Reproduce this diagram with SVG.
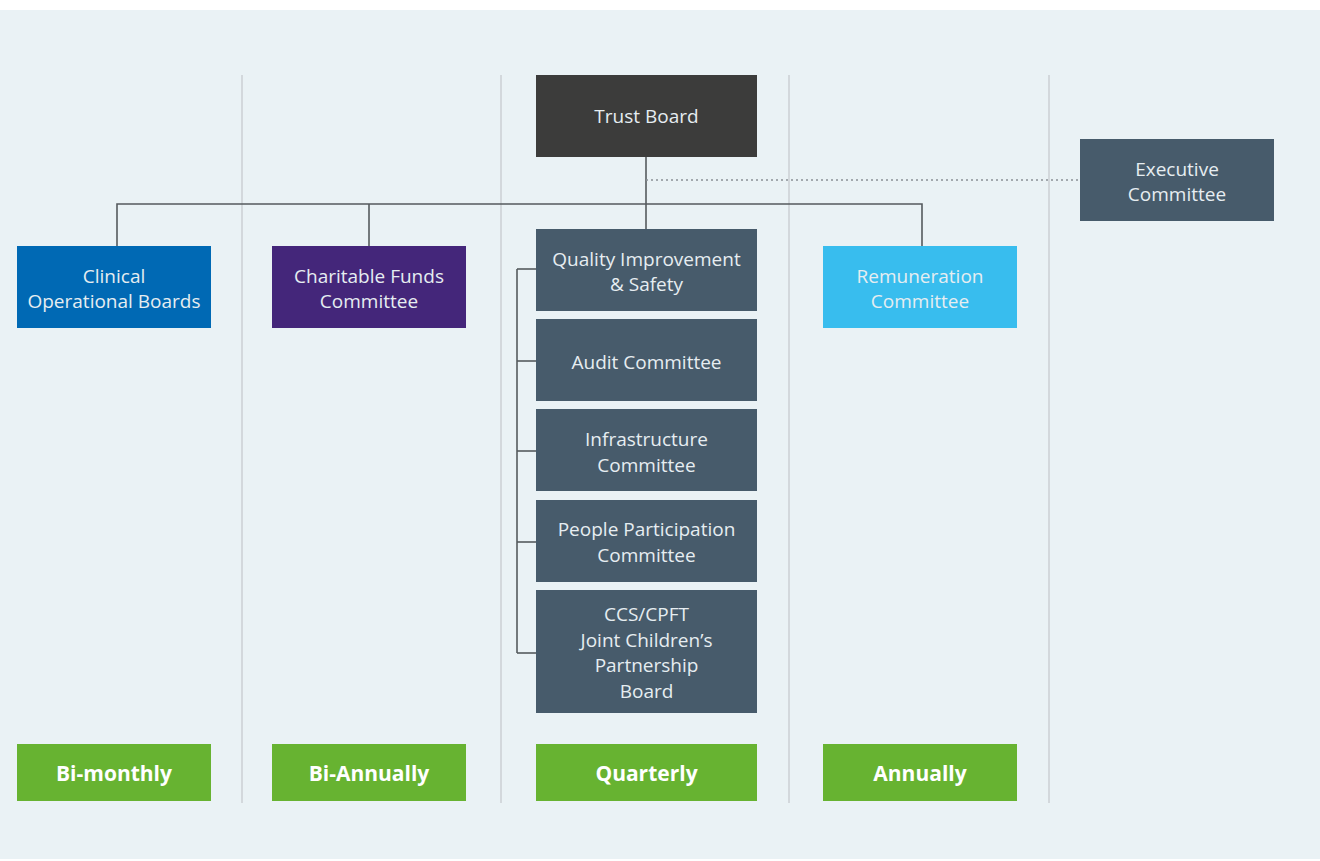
<svg xmlns="http://www.w3.org/2000/svg" width="1320" height="861" viewBox="0 0 1320 861">
<style>
.t{font-family:"Open Sans","Noto Sans","Liberation Sans",sans-serif;font-size:19px;fill:#E6EDF1;text-anchor:middle}
.g{font-family:"Open Sans","Noto Sans","Liberation Sans",sans-serif;font-size:21px;font-weight:bold;fill:#FFFFFF;text-anchor:middle}
.div{stroke:#D3D8DC;stroke-width:2}
.ln{stroke:#555A5E;stroke-width:1.6;fill:none}
.slate{fill:#475B6B}
.green{fill:#67B331}
</style>
<rect x="0" y="0" width="1320" height="861" fill="#FFFFFF"/>
<rect x="0" y="10" width="1320" height="849" fill="#EAF2F5"/>
<g id="dividers">
<line class="div" x1="242" y1="75" x2="242" y2="803"/>
<line class="div" x1="501" y1="75" x2="501" y2="803"/>
<line class="div" x1="789" y1="75" x2="789" y2="803"/>
<line class="div" x1="1049" y1="75" x2="1049" y2="803"/>
</g>
<g id="connectors">
<line class="ln" x1="646" y1="157" x2="646" y2="229"/>
<polyline class="ln" points="117,246 117,204 922,204 922,246"/>
<line class="ln" x1="369" y1="204" x2="369" y2="246"/>
<line x1="646" y1="180" x2="1080" y2="180" stroke="#8A9095" stroke-width="1.5" stroke-dasharray="2,3"/>
<line class="ln" x1="517" y1="269" x2="517" y2="653"/>
<line class="ln" x1="517" y1="269" x2="536" y2="269"/>
<line class="ln" x1="517" y1="361" x2="536" y2="361"/>
<line class="ln" x1="517" y1="451" x2="536" y2="451"/>
<line class="ln" x1="517" y1="542" x2="536" y2="542"/>
<line class="ln" x1="517" y1="653" x2="536" y2="653"/>
</g>
<g id="trust-board">
<rect x="536" y="75" width="221" height="82" fill="#3C3C3B"/>
<text class="t" x="646.5" y="123">Trust Board</text>
</g>
<g id="executive-committee">
<rect class="slate" x="1080" y="139" width="194" height="82"/>
<text class="t" x="1177" y="176">Executive</text>
<text class="t" x="1177" y="201">Committee</text>
</g>
<g id="clinical-operational-boards">
<rect x="17" y="246" width="194" height="82" fill="#0069B4"/>
<text class="t" x="114" y="283">Clinical</text>
<text class="t" x="114" y="308">Operational Boards</text>
</g>
<g id="charitable-funds-committee">
<rect x="272" y="246" width="194" height="82" fill="#44267A"/>
<text class="t" x="369" y="283">Charitable Funds</text>
<text class="t" x="369" y="308">Committee</text>
</g>
<g id="remuneration-committee">
<rect x="823" y="246" width="194" height="82" fill="#38BDEE"/>
<text class="t" x="920" y="283">Remuneration</text>
<text class="t" x="920" y="308">Committee</text>
</g>
<g id="quality-improvement-safety">
<rect class="slate" x="536" y="229" width="221" height="82"/>
<text class="t" x="646.5" y="266">Quality Improvement</text>
<text class="t" x="646.5" y="291">&amp; Safety</text>
</g>
<g id="audit-committee">
<rect class="slate" x="536" y="319" width="221" height="82"/>
<text class="t" x="646.5" y="369">Audit Committee</text>
</g>
<g id="infrastructure-committee">
<rect class="slate" x="536" y="409" width="221" height="82"/>
<text class="t" x="646.5" y="446">Infrastructure</text>
<text class="t" x="646.5" y="472">Committee</text>
</g>
<g id="people-participation-committee">
<rect class="slate" x="536" y="500" width="221" height="82"/>
<text class="t" x="646.5" y="536">People Participation</text>
<text class="t" x="646.5" y="562">Committee</text>
</g>
<g id="joint-childrens-partnership-board">
<rect class="slate" x="536" y="590" width="221" height="123"/>
<text class="t" x="646.5" y="621">CCS/CPFT</text>
<text class="t" x="646.5" y="647">Joint Children’s</text>
<text class="t" x="646.5" y="672">Partnership</text>
<text class="t" x="646.5" y="698">Board</text>
</g>
<g id="bi-monthly">
<rect class="green" x="17" y="744" width="194" height="57"/>
<text class="g" x="114" y="781">Bi-monthly</text>
</g>
<g id="bi-annually">
<rect class="green" x="272" y="744" width="194" height="57"/>
<text class="g" x="369" y="781">Bi-Annually</text>
</g>
<g id="quarterly">
<rect class="green" x="536" y="744" width="221" height="57"/>
<text class="g" x="646.5" y="781">Quarterly</text>
</g>
<g id="annually">
<rect class="green" x="823" y="744" width="194" height="57"/>
<text class="g" x="920" y="781">Annually</text>
</g>
</svg>
